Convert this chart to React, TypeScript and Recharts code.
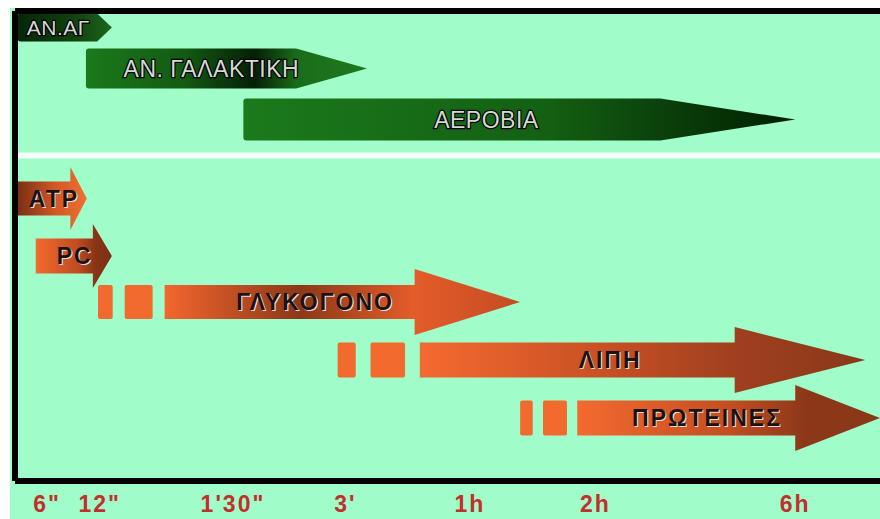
import React from 'react';
import { ComposedChart, Bar, XAxis, YAxis, ReferenceLine } from 'recharts';

// ---- data (timeline units: 0..100 across the time axis; lanes: 0..47 from top) ----
const rowLabels = ['ΑΝ.ΑΓ', 'ΑΝ. ΓΑΛΑΚΤΙΚΗ', 'ΑΕΡΟΒΙΑ', 'ATP', 'PC', 'ΓΛΥΚΟΓΟΝΟ', 'ΛΙΠΗ', 'ΠΡΩΤΕΙΝΕΣ'];
const rowKind = ['system', 'system', 'system', 'fuel', 'fuel', 'fuel', 'fuel', 'fuel'];
const rowLane = [1.6, 5.7, 10.8, 18.7, 24.45, 29.05, 34.85, 40.65];
const rowStart = [0.3, 8.2, 26.4, 0.3, 2.4, 9.6, 37.3, 58.4];
const rowShaftStart = [0.3, 8.2, 26.4, 0.3, 2.4, 17.3, 46.8, 65.0];
const rowHeadStart = [9.5, 32.5, 74.6, 6.4, 9.0, 46.2, 83.2, 90.2];
const rowTip = [11.2, 40.7, 90.2, 8.3, 11.2, 58.4, 98.3, 100];
const rowLabelAt = [5.0, 22.7, 54.5, 4.5, 6.9, 34.7, 68.8, 80.0];

const timeTicks = [3.7, 9.8, 25.2, 38.2, 52.6, 67.1, 90.2];
const timeTickLabels = ['6"', '12"', '1\'30"', '3\'', '1h', '2h', '6h'];

const sectionDivider = 14.45;

const chartData = rowLabels.map((label, i) => ({
  idx: i,
  label,
  kind: rowKind[i],
  lane: rowLane[i],
  range: [rowStart[i], rowTip[i]],
  shaftStart: rowShaftStart[i],
  headStart: rowHeadStart[i],
  labelAt: rowLabelAt[i],
}));

// ---- styles ----
type Stop = [number, string];
const ROW_STYLES: { body: number; head: number; stops: Stop[]; font: number; spacing: number }[] = [
  { body: 28, head: 28, font: 21, spacing: 0.5, stops: [[0, '#072607'], [0.6, '#0f420f'], [1, '#1c661c']] },
  { body: 40, head: 40, font: 23, spacing: 0.5, stops: [[0, '#1a7a1a'], [0.35, '#135a13'], [0.6, '#052005'], [0.75, '#1a6c1a'], [1, '#1e7a1e']] },
  { body: 42, head: 42, font: 23, spacing: 0.5, stops: [[0, '#1b7a1b'], [0.55, '#136013'], [0.75, '#0b420b'], [1, '#011f01']] },
  { body: 34, head: 63, font: 23, spacing: 2, stops: [[0, '#7a2e12'], [0.55, '#d25826'], [1, '#f07030']] },
  { body: 35, head: 64, font: 23, spacing: 2, stops: [[0, '#f26a2e'], [0.55, '#c04c20'], [0.78, '#8a3416'], [1, '#7a3014']] },
  { body: 34, head: 66, font: 23, spacing: 2, stops: [[0, '#f4662e'], [0.38, '#8c3818'], [0.7, '#e45c2a'], [1, '#c44c22']] },
  { body: 35, head: 66, font: 23, spacing: 2, stops: [[0, '#f46a30'], [0.45, '#c44e22'], [0.7, '#a04020'], [1, '#8a3818']] },
  { body: 35, head: 66, font: 23, spacing: 2, stops: [[0, '#f46a30'], [0.5, '#c44e22'], [0.75, '#8c3818'], [1, '#8a3818']] },
];

const LABEL_FONT = "'Liberation Sans', Arial, sans-serif";
const TICK_FONT = "'Liberation Sans Narrow', 'Liberation Sans', Arial, sans-serif";

const ArrowShape = (props: any) => {
  const { x, y, width, height, payload } = props;
  if (x == null || !payload) return null;
  const i = payload.idx;
  const [from, to] = payload.range;
  const k = width / (to - from);
  const px = (v: number) => x + (v - from) * k;
  const cy = y + height / 2;
  const st = ROW_STYLES[i];
  const gid = `arrow-grad-${i}`;
  const x0 = px(from);
  const xs = px(payload.shaftStart);
  const xh = px(payload.headStart);
  const xt = px(to);
  const xl = px(payload.labelAt);
  const grad = (
    <defs>
      <linearGradient id={gid} gradientUnits="userSpaceOnUse" x1={xs} y1={0} x2={xt} y2={0}>
        {st.stops.map(([o, c], j) => (
          <stop key={j} offset={o} stopColor={c} />
        ))}
      </linearGradient>
    </defs>
  );
  if (payload.kind === 'system') {
    const h = st.body / 2;
    const r = 3;
    const d = `M${x0 + r},${cy - h} L${xh},${cy - h} L${xt},${cy} L${xh},${cy + h} L${x0 + r},${cy + h} Q${x0},${cy + h} ${x0},${cy + h - r} L${x0},${cy - h + r} Q${x0},${cy - h} ${x0 + r},${cy - h} Z`;
    return (
      <g>
        {grad}
        <path d={d} fill={`url(#${gid})`} />
        <text
          x={xl}
          y={cy}
          dy="0.36em"
          textAnchor="middle"
          fontFamily={LABEL_FONT}
          fontSize={st.font}
          letterSpacing={st.spacing}
          fill="#d4d8d4"
          stroke="#000"
          strokeWidth={2.4}
          style={{ paintOrder: 'stroke' }}
        >
          {payload.label}
        </text>
      </g>
    );
  }
  const s = st.body / 2;
  const hh = st.head / 2;
  const L = xs - x0;
  const dashes =
    L > 1
      ? [
          [x0, x0 + 0.22 * L],
          [x0 + 0.4 * L, x0 + 0.82 * L],
        ]
      : [];
  const d = `M${xs},${cy - s} L${xh},${cy - s} L${xh},${cy - hh} L${xt},${cy} L${xh},${cy + hh} L${xh},${cy + s} L${xs},${cy + s} Z`;
  return (
    <g>
      {grad}
      {dashes.map(([a, b], j) => (
        <rect key={j} x={a} y={cy - s} width={b - a} height={2 * s} rx={2} fill="#f26a2e" />
      ))}
      <path d={d} fill={`url(#${gid})`} />
      <text
        x={xl + 1.2}
        y={cy + 1.2}
        dy="0.36em"
        textAnchor="middle"
        fontFamily={LABEL_FONT}
        fontWeight="bold"
        fontSize={st.font}
        letterSpacing={st.spacing}
        fill="#e8ddd8"
      >
        {payload.label}
      </text>
      <text
        x={xl}
        y={cy}
        dy="0.36em"
        textAnchor="middle"
        fontFamily={LABEL_FONT}
        fontWeight="bold"
        fontSize={st.font}
        letterSpacing={st.spacing}
        fill="#1c1212"
      >
        {payload.label}
      </text>
    </g>
  );
};

const TimeTick = (props: any) => {
  const { x, y, payload } = props;
  const j = timeTicks.indexOf(payload.value);
  return (
    <text
      x={x}
      y={y + 31}
      textAnchor="middle"
      fontFamily={TICK_FONT}
      fontWeight="bold"
      fontSize={23}
      letterSpacing={2}
      fill="#c2302e"
    >
      {j >= 0 ? timeTickLabels[j] : ''}
    </text>
  );
};

export default function App() {
  return (
    <div style={{ position: 'absolute', left: 0, top: 0, width: 880, height: 519, background: '#ffffff', overflow: 'hidden' }}>
      <div style={{ position: 'absolute', left: 10, top: 8, right: 0, bottom: 0, background: '#a0fcc8' }} />
      <div style={{ position: 'absolute', left: 0, top: 0 }}>
        <ComposedChart
          width={880}
          height={519}
          data={chartData}
          layout="vertical"
          margin={{ top: 11, right: 0, bottom: 0, left: 0 }}
        >
          <XAxis
            type="number"
            dataKey="range"
            domain={[0, 100]}
            allowDataOverflow
            ticks={timeTicks}
            interval={0}
            height={38}
            tickSize={0}
            tickMargin={0}
            tickLine={false}
            axisLine={{ stroke: '#000', strokeWidth: 6 }}
            tick={<TimeTick />}
          />
          <YAxis
            type="number"
            dataKey="lane"
            domain={[0, 47]}
            allowDataOverflow
            width={15}
            tick={false}
            tickLine={false}
            axisLine={{ stroke: '#000', strokeWidth: 6 }}
          />
          <ReferenceLine y={0} stroke="#000" strokeWidth={6} ifOverflow="visible" />
          <ReferenceLine y={sectionDivider} stroke="#f4fff8" strokeWidth={6} ifOverflow="visible" />
          <Bar dataKey="range" barSize={20} shape={<ArrowShape />} isAnimationActive={false} />
        </ComposedChart>
      </div>
    </div>
  );
}
